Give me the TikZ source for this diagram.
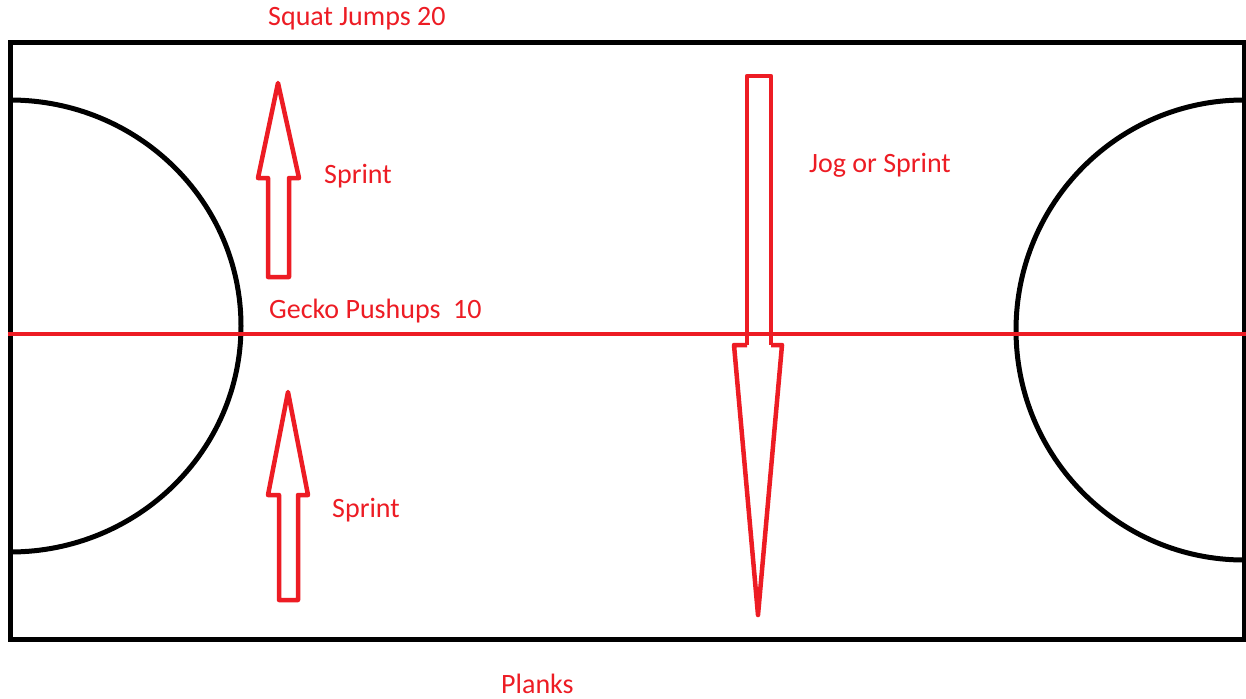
\documentclass[tikz,border=0pt]{standalone}
\usepackage{fontspec}
\setmainfont{Carlito}
\definecolor{paintred}{RGB}{237,28,36}
\tikzset{
  court/.style={draw=black, line width=5pt},
  redline/.style={draw=paintred, line width=4.5pt},
  bigarrow/.style={draw=paintred, fill=white, line width=4.5pt, line join=round},
  lbl/.style={text=paintred, font=\fontsize{28}{32}\selectfont, anchor=base west, inner sep=0pt}
}
\begin{document}
\begin{tikzpicture}[x=1pt,y=-1pt]
\useasboundingbox[fill=white] (0,0) rectangle (1246,698);
% court outline
\draw[court] (10,43) rectangle (1244,639);
% circles
\draw[court] (10,100) arc[start angle=-90, end angle=90, x radius=231, y radius=226];
\draw[court] (1244,100) arc[start angle=-90, end angle=-270, x radius=228, y radius=230];
% halfway line
\draw[redline] (8,334) -- (1246,334);
% arrows
\draw[bigarrow] (268,277) -- (268,178) -- (258,178) -- (278,83) -- (299,178) -- (289,178) -- (289,277) -- cycle;
\draw[bigarrow] (279,600) -- (279,495) -- (268,495) -- (288,392) -- (308,495) -- (298,495) -- (298,600) -- cycle;
\draw[redline, line join=round] (747,345) -- (747,76) -- (771,76) -- (771,345);
\draw[bigarrow] (747,345) -- (734,345) -- (758,615) -- (782,345) -- (771,345);
% labels
\node[lbl] (squat) at (268,26) {Squat Jumps 20};
\node[lbl] (sprint1) at (324,183) {Sprint};
\node[lbl] (jog) at (809,172) {Jog or Sprint};
\node[lbl] (gecko) at (269,318) {Gecko Pushups\ \ 10};
\node[lbl] (sprint2) at (332,517) {Sprint};
\node[lbl] (planks) at (501,693) {Planks};
\end{tikzpicture}
\end{document}
